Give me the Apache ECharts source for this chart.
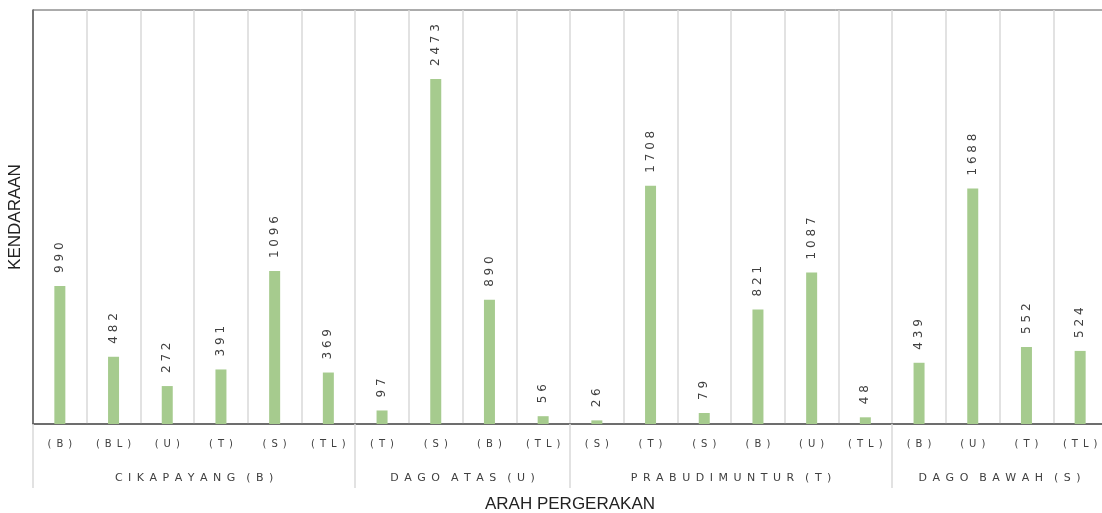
<!DOCTYPE html>
<html lang="id">

<head>
    <meta charset="UTF-8">
    <title>Arah Pergerakan</title>
    <script src="https://cdn.jsdelivr.net/npm/echarts@6/dist/echarts.min.js"></script>
    <style>
        html, body { margin: 0; padding: 0; background: #ffffff; }
    </style>
</head>

<body>
    <div id="main" style="width:1102px;height:513px;"></div>

    <script>
        // data
        var arahList = ['(B)', '(BL)', '(U)', '(T)', '(S)', '(TL)',
                        '(T)', '(S)', '(B)', '(TL)',
                        '(S)', '(T)', '(S)', '(B)', '(U)', '(TL)',
                        '(B)', '(U)', '(T)', '(TL)'];
        var jumlahKendaraan = [990, 482, 272, 391, 1096, 369,
                               97, 2473, 890, 56,
                               26, 1708, 79, 821, 1087, 48,
                               439, 1688, 552, 524];
        var simpangList = ['CIKAPAYANG (B)', 'DAGO ATAS (U)', 'PRABUDIMUNTUR (T)', 'DAGO BAWAH (S)'];
        var simpangSize = [6, 4, 6, 4];

        // huruf direnggangkan seperti di excel
        function renggang(s, sep) {
            return s.replace(/ /g, '').split('').join(sep);
        }
        function renggangKata(s, sep) {
            return s.split(' ').map(function (w) { return renggang(w, sep); }).join(sep + sep);
        }

        // sumbu kedua: titik batas antar simpang (0..20), label di tengah tiap simpang
        var batas = [0];
        var tengah = {};
        var acc = 0;
        simpangSize.forEach(function (n, i) {
            tengah[acc + n / 2] = simpangList[i];
            acc += n;
            batas.push(acc);
        });
        var titikData = [];
        for (var i = 0; i <= acc; i++) {
            titikData.push(tengah[i] || '');
        }

        var myChart = echarts.init(document.getElementById('main'));
        var option = {
            backgroundColor: '#ffffff',
            animation: false,
            grid: {
                left: 33,
                right: -5,
                top: 10,
                bottom: 89,
                outerBoundsMode: 'none',
                containLabel: false,
                show: true,
                borderColor: '#595959',
                borderWidth: 1
            },
            xAxis: [{
                type: 'category',
                data: arahList,
                axisLine: { lineStyle: { color: '#595959', width: 1.5 } },
                axisTick: { show: false },
                splitLine: {
                    show: true,
                    interval: 0,
                    lineStyle: { color: '#d9d9d9', width: 1.5 }
                },
                axisLabel: {
                    interval: 0,
                    margin: 15,
                    color: '#404040',
                    fontSize: 10,
                    fontFamily: 'DejaVu Sans',
                    formatter: function (v) { return renggang(v, '\u2002'); }
                }
            }, {
                type: 'category',
                boundaryGap: false,
                data: titikData,
                position: 'bottom',
                axisLine: { show: false },
                axisTick: {
                    show: true,
                    length: 64,
                    interval: function (idx) { return batas.indexOf(idx) >= 0; },
                    lineStyle: { color: '#d9d9d9', width: 1.5 }
                },
                axisLabel: {
                    interval: function (idx, v) { return v !== ''; },
                    margin: 49,
                    color: '#404040',
                    fontSize: 11,
                    fontFamily: 'DejaVu Sans',
                    formatter: function (v) { return renggangKata(v, '\u2002'); }
                },
                name: 'ARAH PERGERAKAN',
                nameLocation: 'middle',
                nameGap: 72,
                nameTextStyle: { color: '#222222', fontSize: 17, fontFamily: 'Liberation Sans' }
            }],
            yAxis: {
                type: 'value',
                min: 0,
                max: 2968,
                axisLine: { show: true, lineStyle: { color: '#595959', width: 1.5 } },
                axisTick: { show: false },
                axisLabel: { show: false },
                splitLine: { show: false },
                name: 'KENDARAAN',
                nameLocation: 'middle',
                nameGap: 9,
                nameRotate: 90,
                nameTextStyle: { color: '#222222', fontSize: 17, fontFamily: 'Liberation Sans' }
            },
            series: [{
                type: 'bar',
                xAxisIndex: 0,
                data: jumlahKendaraan,
                barWidth: 11,
                itemStyle: { color: '#a6cb8e' },
                label: {
                    show: true,
                    position: 'top',
                    distance: 13,
                    rotate: 90,
                    align: 'left',
                    verticalAlign: 'middle',
                    color: '#404040',
                    fontSize: 12,
                    fontFamily: 'DejaVu Sans',
                    formatter: function (p) { return renggang(String(p.value), ' '); }
                }
            }]
        };
        myChart.setOption(option);
    </script>

</body>

</html>
